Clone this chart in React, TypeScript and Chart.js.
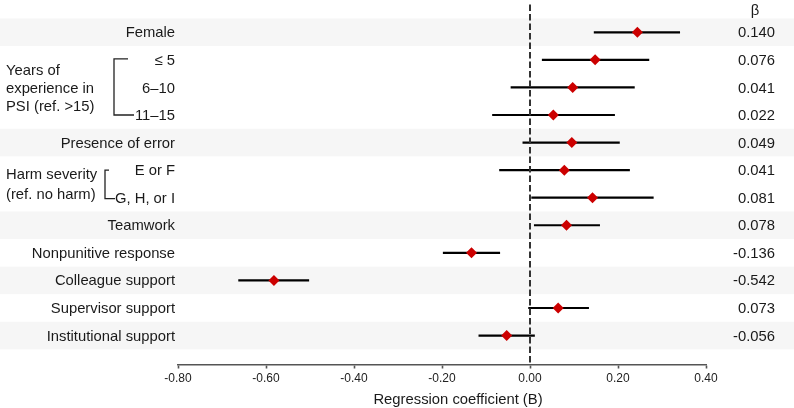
import React, { useEffect, useRef } from "react";
import { Chart, registerables } from "chart.js";

Chart.register(...registerables);

const rowLabels = [
  "Female",
  "≤ 5",
  "6–10",
  "11–15",
  "Presence of error",
  "E or F",
  "G, H, or I",
  "Teamwork",
  "Nonpunitive response",
  "Colleague support",
  "Supervisor support",
  "Institutional support",
];
const coefB = [0.244, 0.148, 0.097, 0.053, 0.095, 0.078, 0.142, 0.083, -0.133, -0.582, 0.064, -0.053];
const ciLow = [0.145, 0.027, -0.044, -0.086, -0.017, -0.07, 0.003, 0.009, -0.198, -0.663, -0.004, -0.117];
const ciHigh = [0.341, 0.271, 0.238, 0.193, 0.204, 0.227, 0.281, 0.159, -0.068, -0.502, 0.134, 0.011];
const betaLabels = ["0.140", "0.076", "0.041", "0.022", "0.049", "0.041", "0.081", "0.078", "-0.136", "-0.542", "0.073", "-0.056"];
const shadedRows = [0, 4, 7, 9, 11];
const yearsGroupLines = ["Years of", "experience in", "PSI (ref. >15)"];
const harmGroupLines = ["Harm severity", "(ref. no harm)"];
const xTickMin = -0.8;
const xTickMax = 0.4;
const xTickStep = 0.2;

const FONT = '"Liberation Sans", Arial, Helvetica, sans-serif';

const forestPlugin = {
  id: "forest",
  beforeDatasetsDraw(chart: any) {
    const { ctx, chartArea, scales } = chart;
    const xs = scales.x;
    const ys = scales.y;
    const W = chart.width;
    ctx.save();
    ctx.fillStyle = "#f6f6f6";
    shadedRows.forEach((r) => {
      const t = ys.getPixelForValue(r - 0.5);
      const b = ys.getPixelForValue(r + 0.5);
      ctx.fillRect(0, t, W, b - t);
    });
    ctx.strokeStyle = "#000";
    ctx.lineWidth = 2.2;
    ctx.lineCap = "butt";
    rowLabels.forEach((_, i) => {
      const y = ys.getPixelForValue(i);
      ctx.beginPath();
      ctx.moveTo(xs.getPixelForValue(ciLow[i]), y);
      ctx.lineTo(xs.getPixelForValue(ciHigh[i]), y);
      ctx.stroke();
    });
    const x0 = xs.getPixelForValue(0);
    ctx.strokeStyle = "#333";
    ctx.lineWidth = 2;
    ctx.setLineDash([6.5, 3]);
    ctx.beginPath();
    ctx.moveTo(x0, chartArea.top - 14);
    ctx.lineTo(x0, chartArea.bottom);
    ctx.stroke();
    ctx.setLineDash([]);
    ctx.restore();
  },
  afterDraw(chart: any) {
    const { ctx, chartArea, scales } = chart;
    const ys = scales.y;
    ctx.save();
    ctx.fillStyle = "#1a1a1a";
    ctx.font = `14.8px ${FONT}`;
    ctx.textBaseline = "middle";
    ctx.textAlign = "right";
    rowLabels.forEach((lab, i) => {
      ctx.fillText(lab, chartArea.left - 3, ys.getPixelForValue(i) + 1);
    });
    betaLabels.forEach((lab, i) => {
      ctx.fillText(lab, chartArea.right + 69, ys.getPixelForValue(i) + 1);
    });
    ctx.textAlign = "center";
    ctx.fillText("β", chartArea.right + 49, ys.getPixelForValue(0) - 21);
    ctx.textAlign = "left";
    const yMid = ys.getPixelForValue(2);
    yearsGroupLines.forEach((l, k) => {
      ctx.fillText(l, 6, yMid + (k - 1) * 18 + 1);
    });
    const hMid = (ys.getPixelForValue(5) + ys.getPixelForValue(6)) / 2;
    harmGroupLines.forEach((l, k) => {
      ctx.fillText(l, 6, hMid + (k - 0.5) * 20 + 1);
    });
    ctx.strokeStyle = "#222";
    ctx.lineWidth = 1.3;
    const yt = ys.getPixelForValue(1) - 1;
    const yb = ys.getPixelForValue(3);
    ctx.beginPath();
    ctx.moveTo(128, yt);
    ctx.lineTo(114, yt);
    ctx.lineTo(114, yb);
    ctx.lineTo(134, yb);
    ctx.stroke();
    const ht = ys.getPixelForValue(5);
    const hb = ys.getPixelForValue(6) + 1;
    ctx.beginPath();
    ctx.moveTo(109, ht);
    ctx.lineTo(105, ht);
    ctx.lineTo(105, hb);
    ctx.lineTo(115, hb);
    ctx.stroke();
    ctx.textAlign = "center";
    ctx.fillText("Regression coefficient (B)", (chartArea.left + chartArea.right) / 2 + 16, 400);
    ctx.restore();
  },
};

export default function App() {
  const canvasRef = useRef<HTMLCanvasElement | null>(null);

  useEffect(() => {
    if (!canvasRef.current) return;
    const chart = new Chart(canvasRef.current, {
      type: "scatter",
      data: {
        datasets: [
          {
            data: coefB.map((v, i) => ({ x: v, y: i })),
            pointStyle: "rectRot",
            pointRadius: 5.5,
            pointBackgroundColor: "#cc0000",
            pointBorderColor: "#cc0000",
            pointBorderWidth: 0,
          },
        ],
      },
      options: {
        responsive: false,
        animation: false,
        events: [],
        layout: { padding: { left: 178, right: 88, top: 18.5, bottom: 0 } },
        plugins: { legend: { display: false }, tooltip: { enabled: false } },
        scales: {
          x: {
            type: "linear",
            min: xTickMin,
            max: xTickMax,
            afterFit: (scale: any) => {
              scale.height = 43.5;
            },
            border: { display: true, color: "#555", width: 1.6 },
            grid: {
              display: true,
              drawOnChartArea: false,
              drawTicks: true,
              tickLength: 4,
              color: "#555",
              tickWidth: 1.6,
            },
            ticks: {
              stepSize: xTickStep,
              padding: 3,
              color: "#222",
              font: { family: FONT, size: 12 },
              callback: (v: any) => Number(v).toFixed(2),
            },
          },
          y: {
            type: "linear",
            display: false,
            reverse: true,
            min: -0.5,
            max: 12.05,
          },
        },
      },
      plugins: [forestPlugin],
    });
    return () => chart.destroy();
  }, []);

  return (
    <div style={{ position: "absolute", left: 0, top: 0, width: 794, height: 408, background: "#fff" }}>
      <canvas ref={canvasRef} width={794} height={408} />
    </div>
  );
}
